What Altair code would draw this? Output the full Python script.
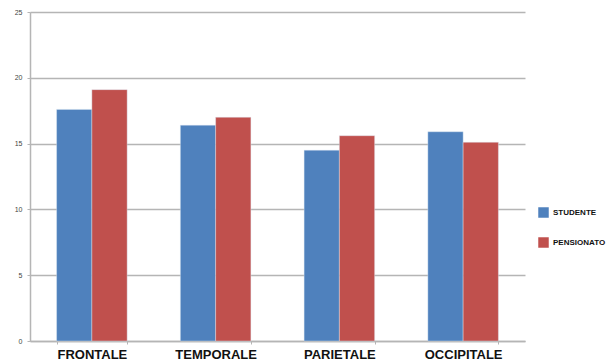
import altair as alt
import pandas as pd

# Lobes and average scores per group
lobi = ["FRONTALE", "TEMPORALE", "PARIETALE", "OCCIPITALE"]
gruppi = ["STUDENTE", "PENSIONATO"]
studente = [17.6, 16.4, 14.5, 15.9]
pensionato = [19.1, 17.0, 15.6, 15.1]
y_ticks = [0, 5, 10, 15, 20, 25]
colori = ["#4F81BD", "#C0504D"]

rows = []
for i, lobo in enumerate(lobi):
    rows.append({"lobo": lobo, "gruppo": gruppi[0], "valore": studente[i]})
    rows.append({"lobo": lobo, "gruppo": gruppi[1], "valore": pensionato[i]})
df = pd.DataFrame(rows)

chart = alt.Chart(df).mark_bar(
    stroke="#dde6f2", strokeWidth=0.6, strokeOpacity=0.7
).encode(
    x=alt.X(
        "lobo:N",
        sort=lobi,
        title=None,
        scale=alt.Scale(paddingInner=0.43, paddingOuter=0.215),
        axis=alt.Axis(
            labelAngle=0,
            labelFont="Liberation Sans",
            labelFontSize=13,
            labelFontWeight="bold",
            labelColor="#111111",
            labelPadding=4,
            domainColor="#b5b5b5",
            domainWidth=1.5,
            tickColor="#b5b5b5",
            tickSize=3,
            tickBand="extent",
            grid=False,
        ),
    ),
    xOffset=alt.XOffset("gruppo:N", sort=gruppi, scale=alt.Scale(paddingInner=0, paddingOuter=0)),
    y=alt.Y(
        "valore:Q",
        title=None,
        scale=alt.Scale(domain=[0, 25], nice=False),
        axis=alt.Axis(
            values=y_ticks,
            labelFont="Liberation Sans",
            labelFontSize=7,
            labelColor="#444444",
            labelPadding=5,
            domainColor="#b5b5b5",
            domainWidth=1.5,
            tickColor="#b5b5b5",
            tickSize=3,
            gridColor="#b5b5b5",
            gridWidth=1.5,
        ),
    ),
    color=alt.Color(
        "gruppo:N",
        sort=gruppi,
        scale=alt.Scale(domain=gruppi, range=colori),
        legend=alt.Legend(
            title=None,
            orient="none",
            legendX=508,
            legendY=195,
            symbolType="square",
            symbolSize=110,
            symbolStrokeWidth=0,
            labelFont="Liberation Sans",
            labelFontSize=8,
            labelFontWeight="bold",
            labelColor="#111111",
            rowPadding=19,
            labelOffset=4,
        ),
    ),
).properties(
    width=495,
    height=329,
    padding={"left": 30, "top": 12, "right": 90, "bottom": 21},
    autosize=alt.AutoSizeParams(type="none"),
).configure(background="white").configure_view(stroke=None)

chart.save("out.html", embed_options={"renderer": "svg", "actions": False})
